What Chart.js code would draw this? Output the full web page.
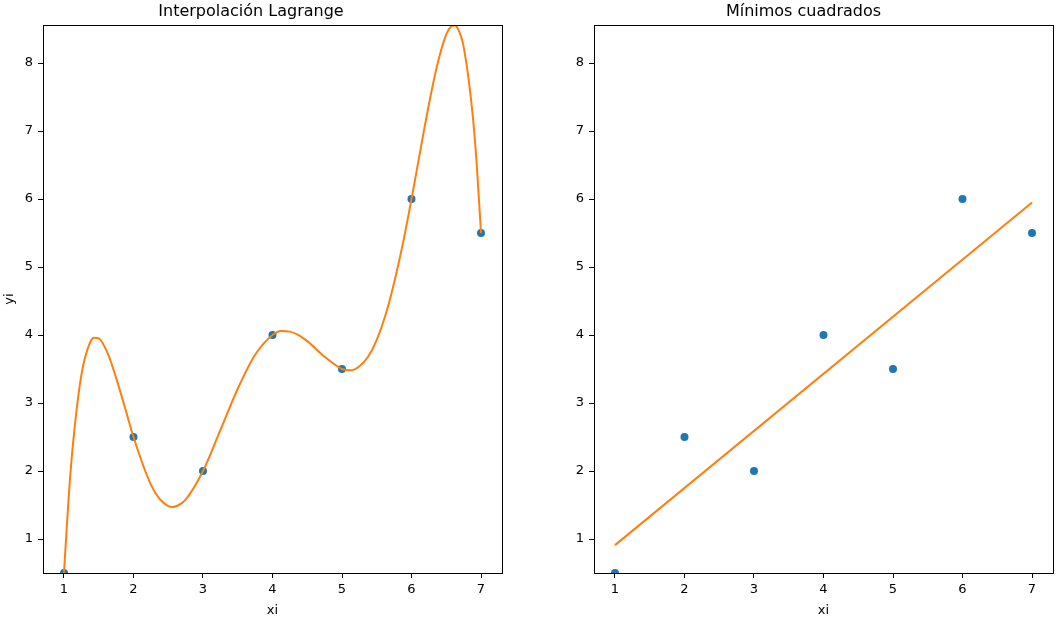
<!DOCTYPE html>
<html>
<head>
<meta charset="utf-8">
<script src="https://cdn.jsdelivr.net/npm/chart.js@4"></script>
<style>
  html, body { margin: 0; padding: 0; background: #fff; }
  #fig { position: relative; width: 1061px; height: 622px; }
  #fig canvas { position: absolute; left: 0; top: 0; }
</style>
</head>
<body>
<div id="fig">
  <canvas id="graficoLagrange" width="1061" height="622"></canvas>
  <canvas id="graficoMinimos" width="1061" height="622"></canvas>
</div>
<script>
// datos medidos
const xi = [1, 2, 3, 4, 5, 6, 7];
const yi = [0.5, 2.5, 2.0, 4.0, 3.5, 6.0, 5.5];

// curva de Lagrange
const lagrangeX = [1, 1.0625, 1.125, 1.25, 1.375, 1.4375, 1.5, 1.625, 1.75, 1.875, 2, 2.25, 2.375, 2.5, 2.5625, 2.625, 2.75, 3, 3.25, 3.5, 3.75, 4, 4.125, 4.25, 4.375, 4.5, 4.75, 5, 5.125, 5.25, 5.375, 5.5, 5.625, 5.75, 5.875, 6, 6.25, 6.375, 6.5, 6.5625, 6.625, 6.6875, 6.75, 6.875, 6.9375, 7];
const lagrangeY = [0.5, 1.54, 2.35, 3.41, 3.89, 3.96, 3.95, 3.74, 3.37, 2.94, 2.5, 1.80, 1.59, 1.485, 1.472, 1.485, 1.58, 2.0, 2.60, 3.21, 3.71, 4.0, 4.06, 4.05, 4.00, 3.91, 3.68, 3.5, 3.48, 3.54, 3.68, 3.93, 4.29, 4.77, 5.34, 6.0, 7.39, 7.99, 8.42, 8.53, 8.55, 8.46, 8.24, 7.29, 6.52, 5.5];

// recta de minimos cuadrados
const minimosX = [1, 7];
const minimosY = [0.91, 5.95];

const xTicks = [1, 2, 3, 4, 5, 6, 7];
const yTicks = [1, 2, 3, 4, 5, 6, 7, 8];

const azul = '#1f77b4';
const naranja = '#ff7f0e';
const fuente = 'DejaVu Sans, sans-serif';

function pares(xs, ys) {
  return xs.map((x, i) => ({ x: x, y: ys[i] }));
}

// marco completo del area (como matplotlib)
const marco = {
  id: 'marco',
  afterDraw(chart) {
    const a = chart.chartArea;
    const ctx = chart.ctx;
    ctx.save();
    ctx.strokeStyle = '#000';
    ctx.lineWidth = 1;
    ctx.strokeRect(Math.round(a.left) + 0.5, Math.round(a.top) + 0.5, Math.round(a.right - a.left), Math.round(a.bottom - a.top));
    ctx.restore();
  }
};

function opciones(titulo, padIzq, padDer, anchoY, tituloY) {
  return {
    responsive: false,
    animation: false,
    layout: { padding: { left: padIzq, right: padDer, top: 0, bottom: 0 } },
    plugins: {
      legend: { display: false },
      tooltip: { enabled: false },
      title: {
        display: true,
        text: titulo,
        color: '#000',
        font: { family: fuente, size: 16, weight: 'normal' },
        padding: { top: 2, bottom: 4 }
      }
    },
    scales: {
      x: {
        type: 'linear',
        min: 0.698,
        max: 7.302,
        afterFit: s => { s.height = 49; },
        afterBuildTicks: s => { s.ticks = xTicks.map(v => ({ value: v })); },
        grid: { drawOnChartArea: false, drawTicks: true, tickLength: 5, color: '#000' },
        border: { display: false },
        ticks: { color: '#000', padding: 4, maxRotation: 0, font: { family: fuente, size: 13 } },
        title: { display: true, text: 'xi', color: '#000', padding: { top: 6, bottom: 4 }, font: { family: fuente, size: 13 } }
      },
      y: {
        type: 'linear',
        min: 0.5,
        max: 8.556,
        afterFit: s => { s.width = anchoY; },
        afterBuildTicks: s => { s.ticks = yTicks.map(v => ({ value: v })); },
        grid: { drawOnChartArea: false, drawTicks: true, tickLength: 5, color: '#000' },
        border: { display: false },
        ticks: { color: '#000', padding: 5, font: { family: fuente, size: 13 } },
        title: { display: tituloY, text: 'yi', color: '#000', padding: { top: 2, bottom: 0 }, font: { family: fuente, size: 13 } }
      }
    }
  };
}

new Chart(document.getElementById('graficoLagrange').getContext('2d'), {
  type: 'scatter',
  data: {
    datasets: [
      {
        label: 'Lagrange',
        data: pares(lagrangeX, lagrangeY),
        showLine: true,
        borderColor: naranja,
        borderWidth: 2,
        pointRadius: 0,
        cubicInterpolationMode: 'monotone',
        order: 0
      },
      {
        label: 'Datos',
        data: pares(xi, yi),
        backgroundColor: azul,
        borderWidth: 0,
        pointRadius: 4,
        order: 1
      }
    ]
  },
  options: opciones('Interpolación Lagrange', 0, 1061 - 502, 43, true),
  plugins: [marco]
});

new Chart(document.getElementById('graficoMinimos').getContext('2d'), {
  type: 'scatter',
  data: {
    datasets: [
      {
        label: 'Mínimos cuadrados',
        data: pares(minimosX, minimosY),
        showLine: true,
        borderColor: naranja,
        borderWidth: 2,
        pointRadius: 0,
        order: 0
      },
      {
        label: 'Datos',
        data: pares(xi, yi),
        backgroundColor: azul,
        borderWidth: 0,
        pointRadius: 4,
        order: 1
      }
    ]
  },
  options: opciones('Mínimos cuadrados', 554, 1061 - 1053, 40, false),
  plugins: [marco]
});
</script>
</body>
</html>
